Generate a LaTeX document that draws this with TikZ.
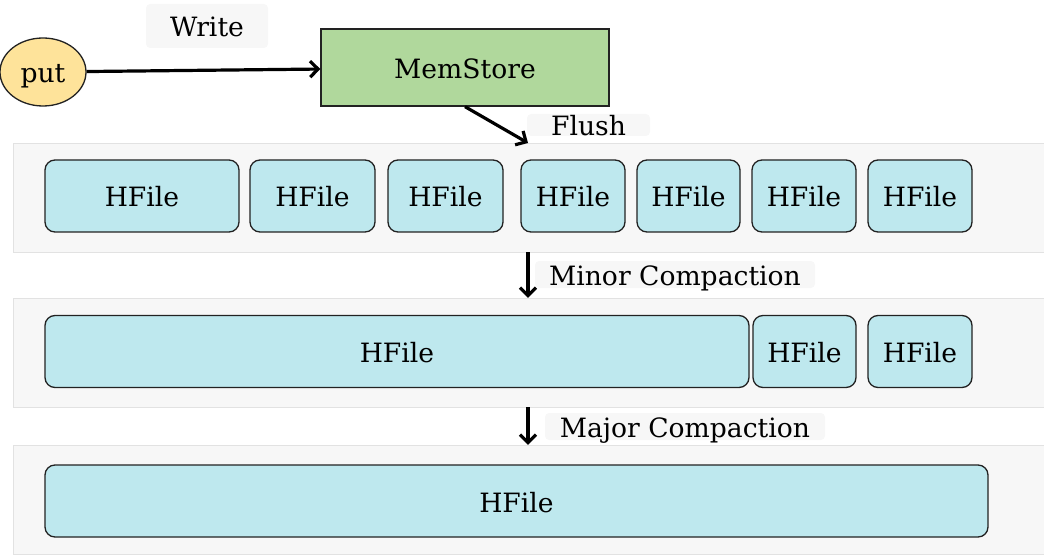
\documentclass[tikz,border=0pt]{standalone}
\usepackage{fontspec}
\setmainfont{DejaVu Serif}
\usetikzlibrary{arrows.meta,shapes.geometric}
\definecolor{hfill}{HTML}{BEE8EE}
\definecolor{memfill}{HTML}{B0D89C}
\definecolor{putfill}{HTML}{FEE39A}
\definecolor{panelfill}{HTML}{F7F7F7}
\definecolor{panelline}{HTML}{E2E2E2}
\definecolor{edge}{HTML}{222222}

\begin{document}
\begin{tikzpicture}[x=1pt,y=-1pt,font=\fontsize{26.6}{31}\selectfont,text height=22pt,text depth=0pt,
  hfile/.style={draw=edge,fill=hfill,rounded corners=10pt,minimum height=72pt,inner sep=0pt,line width=1.3pt},
  panel/.style={draw=panelline,fill=panelfill,inner sep=0pt,minimum height=109pt,minimum width=1031pt},
  tag/.style={fill=panelfill,rounded corners=4pt,inner sep=0pt},
  flow/.style={-{Straight Barb[length=8pt,width=16pt]},line width=3.2pt}]
  \def\rowa{196}
  \def\rowb{351.5}
  \def\rowc{501}
  \useasboundingbox (0,0) rectangle (1044,556);
  % stages
  \node[panel] (panel1) at (528.5,197.5) {};
  \node[panel] (panel2) at (528.5,352.5) {};
  \node[panel] (panel3) at (528.5,499.5) {};
  \node[tag,minimum width=122pt,minimum height=44pt] (write) at (207,26) {Write};
  \node[tag,minimum width=123pt,minimum height=22pt] (flush) at (588.5,125) {Flush};
  \node[tag,minimum width=280pt,minimum height=27pt] (minor) at (675,274.5) {Minor Compaction};
  \node[tag,minimum width=280pt,minimum height=27pt] (major) at (685,426.5) {Major Compaction};
  \node[ellipse,draw=edge,fill=putfill,line width=1.3pt,minimum width=86pt,minimum height=68pt,inner sep=0pt] (put) at (43,72) {put};
  \node[draw=edge,fill=memfill,line width=1.3pt,minimum width=288pt,minimum height=77pt,inner sep=0pt] (mem) at (465,67.5) {MemStore};
  % after flush
  \node[hfile,minimum width=194pt] (a1) at (142,\rowa) {HFile};
  \node[hfile,minimum width=125pt] (a2) at (312.5,\rowa) {HFile};
  \node[hfile,minimum width=115pt] (a3) at (445.5,\rowa) {HFile};
  \node[hfile,minimum width=104pt] (a4) at (573,\rowa) {HFile};
  \node[hfile,minimum width=103pt] (a5) at (688.5,\rowa) {HFile};
  \node[hfile,minimum width=104pt] (a6) at (804,\rowa) {HFile};
  \node[hfile,minimum width=104pt] (a7) at (920,\rowa) {HFile};
  % after minor compaction
  \node[hfile,minimum width=704pt] (b1) at (397,\rowb) {HFile};
  \node[hfile,minimum width=103pt] (b2) at (804.5,\rowb) {HFile};
  \node[hfile,minimum width=104pt] (b3) at (920,\rowb) {HFile};
  % after major compaction
  \node[hfile,minimum width=943pt] (c1) at (516.5,\rowc) {HFile};
  % arrows
  \coordinate (drop) at (528,143);
  \draw[flow] (put) -- (mem);
  \draw[flow] (mem.south) -- (drop);
  \draw[flow] (panel1.south -| drop) -- (panel2.north -| drop);
  \draw[flow] (panel2.south -| drop) -- (panel3.north -| drop);
\end{tikzpicture}
\end{document}
